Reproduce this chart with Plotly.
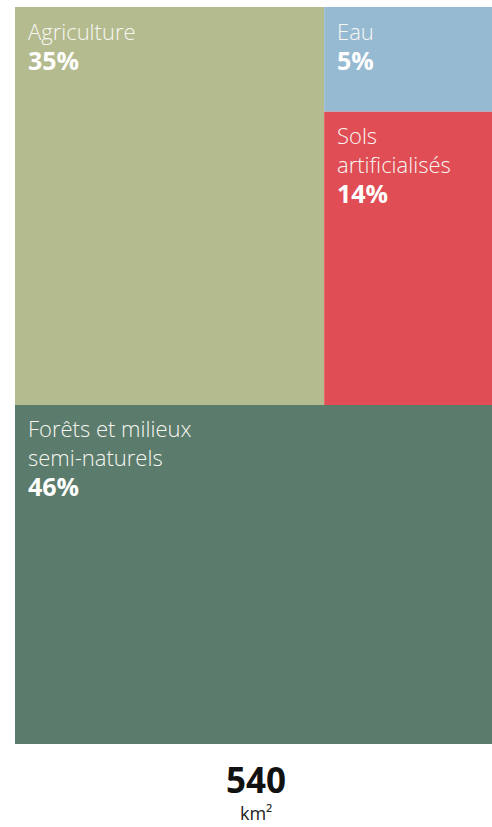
import plotly.graph_objects as go

# Land cover shares (%) of a 540 km² territory
categories = ["Agriculture", "Eau", "Sols artificialisés", "Forêts et milieux semi-naturels"]
label_lines = [["Agriculture"], ["Eau"], ["Sols", "artificialisés"], ["Forêts et milieux", "semi-naturels"]]
shares = [35, 5, 14, 46]
colors = ["#b4bb8f", "#97bad3", "#e04d55", "#5b7c6c"]
total_area = 540
total_unit = "km²"

agri, eau, sols, forets = shares
upper = agri + eau + sols
right = eau + sols

# Nested slice/dice layout in a unit square (y up):
# bottom strip = forests, top strip split into agriculture | (water over built-up land)
y_split = forets / 100
x_split = agri / upper
y_eau = 1 - (1 - y_split) * eau / right
rects = [
    (0, x_split, y_split, 1),          # Agriculture
    (x_split, 1, y_eau, 1),            # Eau
    (x_split, 1, y_split, y_eau),      # Sols artificialisés
    (0, 1, 0, y_split),                # Forêts
]

fig = go.Figure()
for name, (x0, x1, y0, y1), c in zip(categories, rects, colors):
    fig.add_trace(go.Scatter(
        x=[x0, x1, x1, x0, x0], y=[y0, y0, y1, y1, y0],
        mode="lines", fill="toself", fillcolor=c,
        line=dict(width=0, color=c), hoverinfo="skip", name=name,
        showlegend=False,
    ))

FONT = "Open Sans"
NAME_SIZE = 22
PCT_SIZE = 25
LINE_STEP = 28.5
PAD_X = 13

for lines, share, (x0, x1, y0, y1) in zip(label_lines, shares, rects):
    for i, line in enumerate(lines):
        fig.add_annotation(
            x=x0, y=y1, xref="x", yref="y", xanchor="left", yanchor="top",
            xshift=PAD_X - 2, yshift=-(6.5 + LINE_STEP * i), showarrow=False,
            text=line, font=dict(family=FONT, size=NAME_SIZE, color="#f7f7f2", weight=300),
        )
    fig.add_annotation(
        x=x0, y=y1, xref="x", yref="y", xanchor="left", yanchor="top",
        xshift=PAD_X - 2, yshift=-(5 + LINE_STEP * len(lines)), showarrow=False,
        text=f"<b>{share}%</b>", font=dict(family=FONT, size=PCT_SIZE, color="#ffffff"),
    )

# Total area caption below the treemap, offset in pixels from the plot bottom
fig.add_annotation(
    x=0.5, y=0, xref="paper", yref="paper", showarrow=False,
    text=f"<b>{total_area}</b>", font=dict(family=FONT, size=35, color="#111111"),
    yanchor="middle", xanchor="center", yshift=-35, xshift=2,
)
fig.add_annotation(
    x=0.5, y=0, xref="paper", yref="paper", showarrow=False,
    text=total_unit, font=dict(family=FONT, size=18, color="#222222"),
    yanchor="middle", xanchor="center", yshift=-69, xshift=2,
)

fig.update_layout(
    width=492, height=827,
    margin=dict(l=15, r=0, t=7, b=83),
    paper_bgcolor="white", plot_bgcolor="white",
    xaxis=dict(range=[0, 1], visible=False, fixedrange=True),
    yaxis=dict(range=[0, 1], visible=False, fixedrange=True),
)

fig.write_html("out.html")
